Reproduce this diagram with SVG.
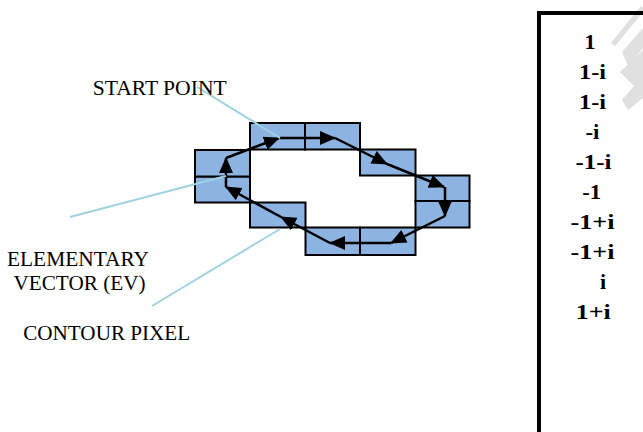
<svg xmlns="http://www.w3.org/2000/svg" width="643" height="432" viewBox="0 0 643 432">
<defs>
<style>
.cell{fill:#8db3e2;stroke:#000;stroke-width:2}
.ev{fill:none;stroke:#000;stroke-width:2.5}
.lead{fill:none;stroke:#9fd3e0;stroke-width:2}
.lbl{font-family:'Liberation Serif','Times New Roman',serif;font-size:20px;fill:#000;text-anchor:middle}
.val{font-family:'Liberation Serif','Times New Roman',serif;font-size:22px;font-weight:bold;fill:#000;text-anchor:middle}
.wm{fill:#e0e0e0}
</style>
<marker id="ah" markerUnits="userSpaceOnUse" markerWidth="17" markerHeight="14" refX="15" refY="7" orient="auto">
<path d="M0,0 L16,7 L0,14 Z" fill="#000"/>
</marker>
</defs>
<rect width="643" height="432" fill="#fff"/>

<g id="watermark">
<polygon class="wm" points="611,43 641,6 643,8 643,12 615,46"/>
<polygon class="wm" points="622,52 643,28 643,48 628,66"/>
<polygon class="wm" points="620,72 643,50 643,98 628,110 622,100 634,86"/>
</g>

<g id="cells">
<rect id="c1" class="cell" x="250" y="123" width="55" height="26.5"/>
<rect id="c2" class="cell" x="305" y="123" width="55" height="26.5"/>
<rect id="c3" class="cell" x="360" y="149.5" width="55.5" height="26"/>
<rect id="c4" class="cell" x="415.5" y="175.5" width="54" height="25.5"/>
<rect id="c5" class="cell" x="415.5" y="201" width="54" height="26.5"/>
<rect id="c6" class="cell" x="360" y="227.5" width="55.5" height="27.5"/>
<rect id="c7" class="cell" x="305.5" y="227.5" width="54.5" height="27.5"/>
<rect id="c8" class="cell" x="250" y="202.5" width="55.5" height="25"/>
<rect id="c9" class="cell" x="195" y="176.5" width="55" height="26"/>
<rect id="c10" class="cell" x="195" y="150" width="55" height="26.5"/>
</g>

<g id="connectors">
<line class="ev" x1="280" y1="138" x2="335" y2="138" marker-end="url(#ah)"/>
<line class="ev" x1="335" y1="138" x2="387" y2="164" marker-end="url(#ah)"/>
<line class="ev" x1="387" y1="164" x2="444" y2="187" marker-end="url(#ah)"/>
<line class="ev" x1="445" y1="187" x2="445" y2="216" marker-end="url(#ah)"/>
<line class="ev" x1="445" y1="216" x2="391" y2="243" marker-end="url(#ah)"/>
<line class="ev" x1="391" y1="243" x2="330" y2="243" marker-end="url(#ah)"/>
<line class="ev" x1="330" y1="243" x2="281" y2="217" marker-end="url(#ah)"/>
<line class="ev" x1="281" y1="217" x2="226" y2="187" marker-end="url(#ah)"/>
<line class="ev" x1="226" y1="187" x2="226" y2="158" marker-end="url(#ah)"/>
<line class="ev" x1="226" y1="158" x2="279" y2="138" marker-end="url(#ah)"/>
<line class="lead" x1="197" y1="87" x2="280" y2="138"/>
<line class="lead" x1="70" y1="217" x2="226" y2="176"/>
<line class="lead" x1="152" y1="306" x2="280" y2="229"/>
</g>

<g id="labels">
<text class="lbl" x="159.7" y="94.5" textLength="134" lengthAdjust="spacingAndGlyphs">START POINT</text>
<text class="lbl" x="78" y="266" textLength="142" lengthAdjust="spacingAndGlyphs">ELEMENTARY</text>
<text class="lbl" x="79.5" y="290" textLength="132" lengthAdjust="spacingAndGlyphs">VECTOR (EV)</text>
<text class="lbl" x="106.7" y="339.5" textLength="167" lengthAdjust="spacingAndGlyphs">CONTOUR PIXEL</text>
</g>

<g id="table">
<path d="M539,432 V13 H643" fill="none" stroke="#000" stroke-width="4"/>
<text class="val" x="590" y="49">1</text>
<text class="val" x="592.5" y="79" textLength="27" lengthAdjust="spacingAndGlyphs">1-i</text>
<text class="val" x="592.5" y="109" textLength="27" lengthAdjust="spacingAndGlyphs">1-i</text>
<text class="val" x="592.5" y="139" textLength="14" lengthAdjust="spacingAndGlyphs">-i</text>
<text class="val" x="593.5" y="169" textLength="36" lengthAdjust="spacingAndGlyphs">-1-i</text>
<text class="val" x="591.7" y="199" textLength="19" lengthAdjust="spacingAndGlyphs">-1</text>
<text class="val" x="592.5" y="229" textLength="44" lengthAdjust="spacingAndGlyphs">-1+i</text>
<text class="val" x="592.5" y="259" textLength="44" lengthAdjust="spacingAndGlyphs">-1+i</text>
<text class="val" x="603" y="289">i</text>
<text class="val" x="593.3" y="319" textLength="35" lengthAdjust="spacingAndGlyphs">1+i</text>
</g>
</svg>
